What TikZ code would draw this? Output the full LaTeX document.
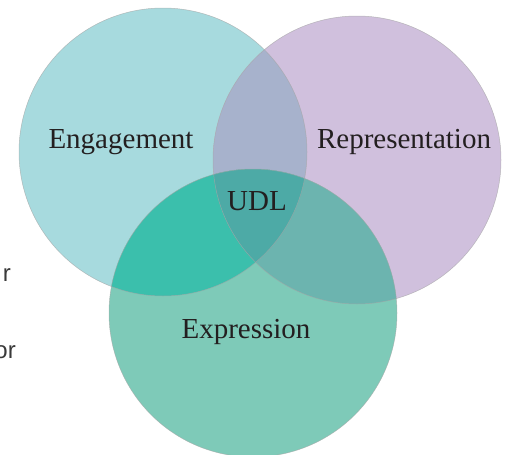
\documentclass[tikz,border=0pt]{standalone}
\usepackage{fontspec}
\setmainfont{Liberation Serif}
\newfontfamily\sidefont{Liberation Sans}

\definecolor{engcol}{HTML}{A7DADE}
\definecolor{repcol}{HTML}{D0C0DD}
\definecolor{expcol}{HTML}{7ECAB8}
\definecolor{engrep}{HTML}{A7B2CC}
\definecolor{engexp}{HTML}{3BBFAC}
\definecolor{repexp}{HTML}{6CB4AF}
\definecolor{udlcol}{HTML}{4DAAA6}
\definecolor{inkcol}{HTML}{231F20}
\definecolor{sidecol}{HTML}{3A3A3A}

\tikzset{
  rim/.style={draw=gray!70, line width=0.5pt, opacity=0.7},
  lbl/.style={text=inkcol, font=\fontsize{29}{34}\selectfont, anchor=base, inner sep=0pt},
  cut/.style={text=sidecol, font=\sidefont\fontsize{24}{28}\selectfont, anchor=base east, inner sep=0pt}
}

\begin{document}
\begin{tikzpicture}[x=1pt,y=-1pt]
\useasboundingbox (0,0) rectangle (506,455);
\def\rad{144}
\coordinate (eng) at (163,152);
\coordinate (rep) at (357,160);
\coordinate (exp) at (253,313);

% the three sets
\foreach \c/\col in {eng/engcol, rep/repcol, exp/expcol} {%
    \fill[\col] (\c) circle (\rad pt);
}
% pairwise overlaps
\foreach \a/\b/\col in {eng/rep/engrep, eng/exp/engexp, rep/exp/repexp} {%
    \begin{scope}
    \clip (\a) circle (\rad pt);
    \fill[\col] (\b) circle (\rad pt);
    \end{scope}
}
\begin{scope}
\clip (eng) circle (\rad pt);
\clip (rep) circle (\rad pt);
\fill[udlcol] (exp) circle (\rad pt);
\end{scope}
\foreach \c in {eng,rep,exp} {%
    \draw[rim] (\c) circle (\rad pt);
}

\node[lbl] (englbl) at (121,148) {Engagement};
\node[lbl] (replbl) at (404,148) {Representation};
\node[lbl] (udllbl) at (257,210) {UDL};
\node[lbl] (explbl) at (246,338) {Expression};

% cut-off text at the left edge
\node[cut] (cutr) at (11,281) {r};
\node[cut] (cutor) at (16,358) {or};
\end{tikzpicture}
\end{document}
